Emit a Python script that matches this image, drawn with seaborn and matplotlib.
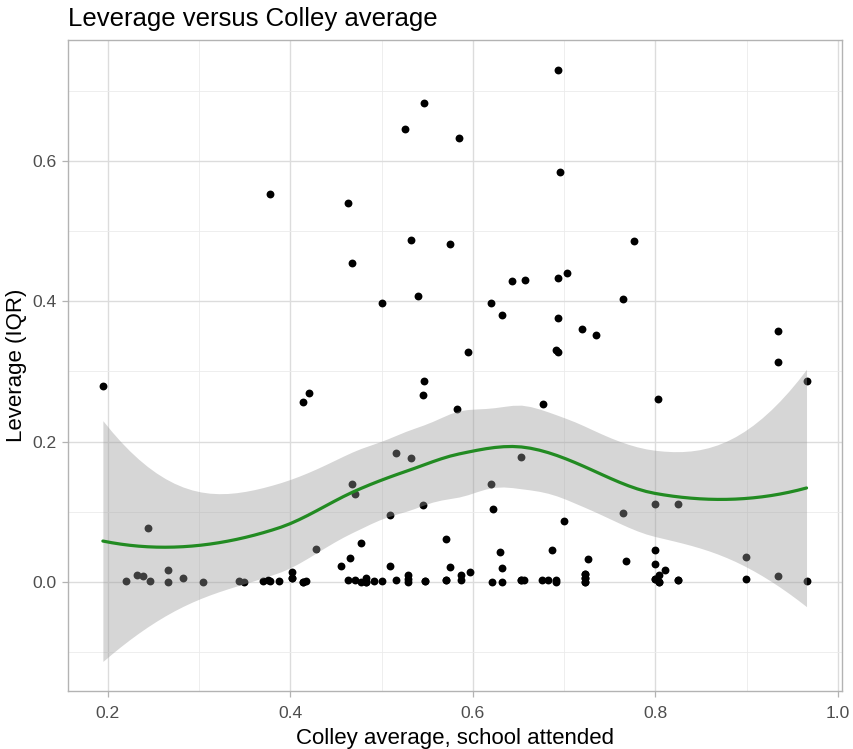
import numpy as np
import pandas as pd
import matplotlib
matplotlib.use("Agg")
import matplotlib.pyplot as plt
import seaborn as sns

# Colley average of the school attended, and leverage (IQR)
colley_avg = [
    0.1949, 0.378, 0.414, 0.421, 0.463, 0.468, 0.4678, 0.4714, 0.5005, 0.509,
    0.5155, 0.526, 0.532, 0.532, 0.540, 0.545, 0.547, 0.5453, 0.5468, 0.575,
    0.583, 0.585, 0.595, 0.620, 0.6204, 0.622, 0.632, 0.643, 0.6525, 0.6575,
    0.677, 0.691, 0.6937, 0.6937, 0.6937, 0.695, 0.6937, 0.7035, 0.700, 0.7195,
    0.7344, 0.7643, 0.7645, 0.777, 0.799, 0.803, 0.8247, 0.9337, 0.9337, 0.9654,
    0.244, 0.428, 0.477, 0.5705, 0.465, 0.4557, 0.5096, 0.5752, 0.630, 0.6314,
    0.6863, 0.726, 0.7672, 0.799, 0.799, 0.810, 0.899, 0.9337, 0.5974, 0.5869,
    0.529,
    0.220, 0.232, 0.2386, 0.2467, 0.2667, 0.2667, 0.2823, 0.305, 0.344, 0.349,
    0.370, 0.3755, 0.378, 0.3876, 0.402, 0.402, 0.4138, 0.4175, 0.4637, 0.4707,
    0.4776, 0.4827, 0.4827, 0.4914, 0.5005, 0.5155, 0.529, 0.529, 0.5475, 0.5705,
    0.5869, 0.6214, 0.6317, 0.6525, 0.656, 0.676, 0.682, 0.691, 0.691, 0.7232,
    0.7232, 0.7232, 0.8036, 0.799, 0.8036, 0.8247, 0.899, 0.9654,
    # players from the same schools, stacked on top of each other near zero
    0.402, 0.4138, 0.4827, 0.5475, 0.5705, 0.6525, 0.7232, 0.7232, 0.7232,
    0.799, 0.8036, 0.8247,
]
leverage_iqr = [
    0.279, 0.553, 0.256, 0.269, 0.540, 0.455, 0.139, 0.125, 0.397, 0.095,
    0.184, 0.645, 0.487, 0.176, 0.407, 0.266, 0.286, 0.109, 0.683, 0.482,
    0.246, 0.633, 0.328, 0.397, 0.140, 0.104, 0.381, 0.429, 0.178, 0.430,
    0.253, 0.331, 0.328, 0.376, 0.433, 0.585, 0.730, 0.441, 0.086, 0.360,
    0.352, 0.098, 0.403, 0.486, 0.111, 0.261, 0.111, 0.358, 0.313, 0.287,
    0.077, 0.0465, 0.056, 0.061, 0.034, 0.022, 0.023, 0.021, 0.042, 0.0195,
    0.045, 0.032, 0.030, 0.0455, 0.026, 0.017, 0.035, 0.0085, 0.0138, 0.010,
    0.0095,
    0.001, 0.010, 0.0076, 0.001, 0.0166, 0.0, 0.006, 0.0, 0.001, 0.0,
    0.001, 0.002, 0.001, 0.001, 0.014, 0.006, 0.0, 0.001, 0.002, 0.002,
    0.0, 0.005, 0.0, 0.001, 0.001, 0.002, 0.004, 0.0, 0.001, 0.002,
    0.002, 0.0, 0.0, 0.002, 0.002, 0.002, 0.002, 0.003, 0.0, 0.011,
    0.006, 0.0, 0.010, 0.004, 0.0, 0.002, 0.004, 0.001,
    0.006, 0.0, 0.0, 0.001, 0.002, 0.002, 0.006, 0.0, 0.011,
    0.004, 0.0, 0.002,
]

title = "Leverage versus Colley average"
x_label = "Colley average, school attended"
y_label = "Leverage (IQR)"
x_ticks = [0.2, 0.4, 0.6, 0.8, 1.0]
y_ticks = [0.0, 0.2, 0.4, 0.6]

df = pd.DataFrame({"colley": colley_avg, "leverage": leverage_iqr})


# ---- loess (degree 2, span 0.75) with kd-tree vertex interpolation ----
def local_rows(x, x0, q):
    """Operator rows giving the local value and slope at x0."""
    d = np.abs(x - x0)
    ds = np.sort(d)
    h = ds[q - 1] if q >= len(x) else 0.5 * (ds[q - 1] + ds[q])
    u = np.clip(d / h, 0, 1)
    w = (1 - u ** 3) ** 3
    X = np.column_stack([np.ones(len(x)), x - x0, (x - x0) ** 2])
    XtW = X.T * w
    sol = np.linalg.solve(XtW @ X, XtW)
    return sol[0], sol[1]


def kd_vertices(x, fc):
    xs = np.sort(x)
    n = len(xs)
    mu = 0.005 * (xs[-1] - xs[0])
    verts = {xs[0] - mu, xs[-1] + mu}
    stack = [(0, n - 1, xs[0] - mu, xs[-1] + mu)]
    while stack:
        l, u, vlo, vhi = stack.pop()
        if u - l + 1 <= fc:
            continue
        m = (l + u) // 2
        off = 0
        while l <= m + off < u:
            if xs[m + off] == xs[m + off + 1]:
                off = -off
                if off >= 0:
                    off += 1
            else:
                m = m + off
                break
        xi = xs[m]
        if xi == vlo or xi == vhi:
            continue
        verts.add(xi)
        stack.append((l, m, vlo, xi))
        stack.append((m + 1, u, xi, vhi))
    return np.array(sorted(verts))


def loess_operator(x, x_eval, span=0.75, cell=0.2):
    n = len(x)
    q = int(np.floor(n * span))
    fc = int(np.floor(n * span * cell))
    verts = kd_vertices(x, fc)
    vals, slopes = zip(*[local_rows(x, v, q) for v in verts])
    vals, slopes = np.array(vals), np.array(slopes)
    rows = []
    for x0 in x_eval:
        k = np.clip(np.searchsorted(verts, x0) - 1, 0, len(verts) - 2)
        v0, v1 = verts[k], verts[k + 1]
        hh = v1 - v0
        t = (x0 - v0) / hh
        p0 = (1 - t) ** 2 * (1 + 2 * t)
        p1 = t ** 2 * (3 - 2 * t)
        s0 = t * (1 - t) ** 2 * hh
        s1 = -t ** 2 * (1 - t) * hh
        rows.append(p0 * vals[k] + p1 * vals[k + 1] + s0 * slopes[k] + s1 * slopes[k + 1])
    return np.array(rows)


def t_quantile_975(dof):
    z = 1.959963984540054
    g1 = (z ** 3 + z) / 4
    g2 = (5 * z ** 5 + 16 * z ** 3 + 3 * z) / 96
    g3 = (3 * z ** 7 + 19 * z ** 5 + 17 * z ** 3 - 15 * z) / 384
    return z + g1 / dof + g2 / dof ** 2 + g3 / dof ** 3


x = df["colley"].to_numpy()
y = df["leverage"].to_numpy()
n = len(x)
L = loess_operator(x, x)
IL = np.eye(n) - L
M = IL.T @ IL
one_delta = np.trace(M)
two_delta = np.trace(M @ M)
resid = y - L @ y
sigma = np.sqrt(np.sum(resid ** 2) / one_delta)
tq = t_quantile_975(one_delta ** 2 / two_delta)

grid = np.linspace(x.min(), x.max(), 80)
Lg = loess_operator(x, grid)
fit = Lg @ y
se = sigma * np.sqrt(np.sum(Lg ** 2, axis=1))
smooth = pd.DataFrame({"colley": grid, "fit": fit,
                       "lo": fit - tq * se, "hi": fit + tq * se})

# ---- figure ----
sns.set_theme(style="white")
plt.rcParams["font.family"] = ["Liberation Sans", "DejaVu Sans"]

W, H = 854, 749
fig = plt.figure(figsize=(W / 100, H / 100), dpi=100)
left, right, top, bottom = 67.7, 841.7, 40.3, 691.0
ax = fig.add_axes([left / W, 1 - bottom / H, (right - left) / W, (bottom - top) / H])

sns.scatterplot(data=df, x="colley", y="leverage", ax=ax, color="black",
                s=32, linewidth=0, zorder=2, legend=False)
ax.fill_between(smooth["colley"], smooth["lo"], smooth["hi"],
                color="#999999", alpha=0.4, linewidth=0, zorder=3)
sns.lineplot(data=smooth, x="colley", y="fit", ax=ax, color="#228B22",
             linewidth=2.3, zorder=4)

# 5% expansion of the data/band range
xmin, xmax = x.min(), x.max()
ymin = min(y.min(), smooth["lo"].min())
ymax = max(y.max(), smooth["hi"].max())
xr, yr = xmax - xmin, ymax - ymin
ax.set_xlim(xmin - 0.05 * xr, xmax + 0.05 * xr)
ax.set_ylim(ymin - 0.05 * yr, ymax + 0.05 * yr)

ax.set_xticks(x_ticks)
ax.set_yticks(y_ticks)
ax.set_xticklabels([f"{t:.1f}" for t in x_ticks])
ax.set_yticklabels([f"{t:.1f}" for t in y_ticks])
ax.set_xticks([0.3, 0.5, 0.7, 0.9], minor=True)
ax.set_yticks([-0.1, 0.1, 0.3, 0.5, 0.7], minor=True)

ax.grid(True, which="major", color="#dcdcdc", linewidth=1.0, zorder=0)
ax.grid(True, which="minor", color="#ebebeb", linewidth=0.6, zorder=0)
ax.set_axisbelow(True)
for sp in ax.spines.values():
    sp.set_color("#b3b3b3")
    sp.set_linewidth(1.0)

ax.tick_params(axis="both", which="major", length=4.5, width=0.9,
               color="#b3b3b3", labelsize=12.6, labelcolor="#4d4d4d",
               direction="out", bottom=True, left=True)
ax.tick_params(axis="x", which="major", pad=6)
ax.tick_params(axis="y", which="major", pad=3.5)
ax.tick_params(axis="both", which="minor", length=0)

ax.set_xlabel(x_label, fontsize=16, color="black", labelpad=5)
ax.set_ylabel(y_label, fontsize=16, color="black", labelpad=4)
ax.set_title(title, fontsize=18.5, color="black", loc="left", pad=10)

fig.savefig("out.png", dpi=100)
